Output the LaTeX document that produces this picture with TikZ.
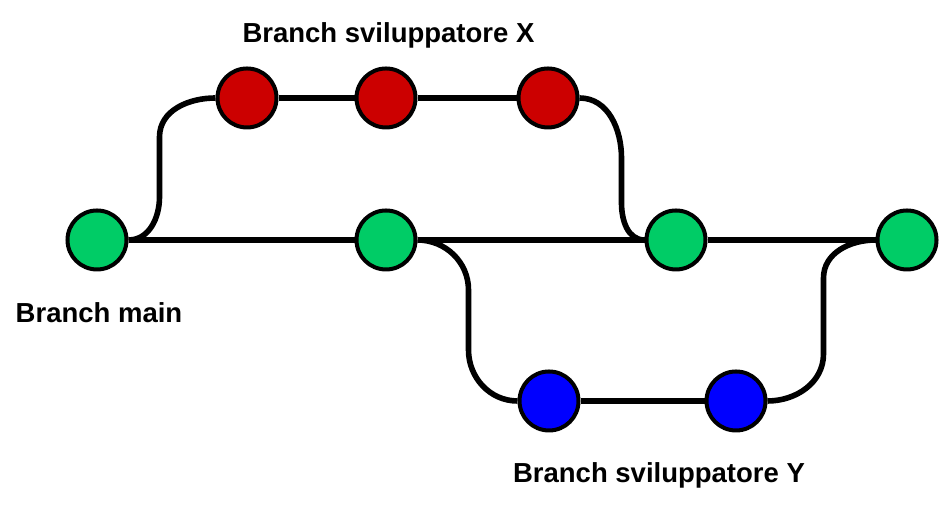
\documentclass[tikz,border=0pt]{standalone}
\usepackage{fontspec}
\setmainfont{Liberation Sans}
\usepackage{xcolor}
\usepackage{tikz}
\usetikzlibrary{arrows.meta,positioning,calc}

\definecolor{maingreen}{HTML}{00CC66}
\definecolor{devred}{HTML}{CC0000}
\definecolor{devblue}{HTML}{0000FF}

\begin{document}
\begin{tikzpicture}[
    x=0.5pt, y=0.5pt,
    commit/.style={draw, circle, line width=2pt, minimum size=29.5pt, inner sep=0pt},
    branchline/.style={line width=2.8pt},
    branchlabel/.style={font=\fontsize{13.75}{16}\selectfont\bfseries, anchor=base, inner sep=0pt}
  ]
    \useasboundingbox (0,0) rectangle (947,522);
    % main
    \node[commit, fill=maingreen] (g1) at (97,282) {};
    \node[commit, fill=maingreen] (g2) at (386,282) {};
    \node[commit, fill=maingreen] (g3) at (676,282) {};
    \node[commit, fill=maingreen] (g4) at (907,282) {};
    % sviluppatore X
    \node[commit, fill=devred] (r1) at (247,424) {};
    \node[commit, fill=devred] (r2) at (386,424) {};
    \node[commit, fill=devred] (r3) at (548,424) {};
    % sviluppatore Y
    \node[commit, fill=devblue] (b1) at (549,121) {};
    \node[commit, fill=devblue] (b2) at (736,121) {};
    \node[branchlabel] (labx) at (388.5,479) {Branch sviluppatore X};
    \node[branchlabel] (labmain) at (99,199) {Branch main};
    \node[branchlabel] (laby) at (659,39) {Branch sviluppatore Y};
    \draw[branchline] (g1) -- (g2);
    \draw[branchline] (g2) -- (g3);
    \draw[branchline] (g3) -- (g4);
    \draw[branchline] (r1) -- (r2);
    \draw[branchline] (r2) -- (r3);
    \draw[branchline] (b1) -- (b2);
    \draw[branchline] (g1.east) to[out=0,in=-90] ++(31,43) -- ++(0,60) to[out=90,in=180] (r1.west);
    \draw[branchline] (r3.east) to[out=0,in=90] ++(42,-60) -- ++(0,-45) to[out=-90,in=180] (g3.west);
    \draw[branchline] (g2.east) to[out=0,in=90] ++(51,-50) -- ++(0,-60) to[out=-90,in=180] (b1.west);
    \draw[branchline] (b2.east) to[out=0,in=-90] ++(56,47) -- ++(0,76) to[out=90,in=180] (g4.west);
  \end{tikzpicture}
\end{document}
